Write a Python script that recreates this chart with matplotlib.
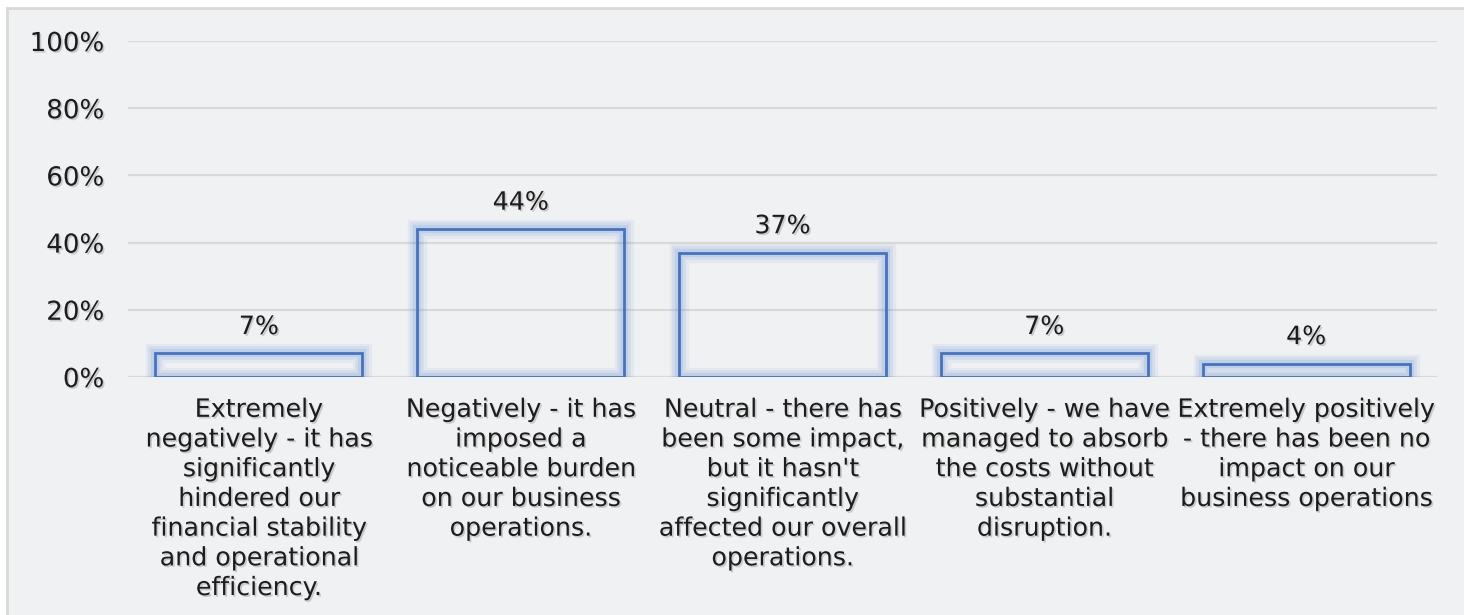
import matplotlib.pyplot as plt
import matplotlib.patheffects as pe
from matplotlib.patches import Rectangle

# survey answers and share of respondents (%)
categories = [
    "Extremely\nnegatively - it has\nsignificantly\nhindered our\nfinancial stability\nand operational\nefficiency.",
    "Negatively - it has\nimposed a\nnoticeable burden\non our business\noperations.",
    "Neutral - there has\nbeen some impact,\nbut it hasn't\nsignificantly\naffected our overall\noperations.",
    "Positively - we have\nmanaged to absorb\nthe costs without\nsubstantial\ndisruption.",
    "Extremely positively\n- there has been no\nimpact on our\nbusiness operations",
]
shares = [7, 44, 37, 7, 4]
yticks = [0, 20, 40, 60, 80, 100]

plt.rcParams['font.family'] = ['DejaVu Sans']
txt_color = '#1c1c1c'
fsize = 18.2
shadow = [pe.withSimplePatchShadow(offset=(1.2, -1.2), shadow_rgbFace='#9a9a9a', alpha=0.45)]

fig = plt.figure(figsize=(14.64, 6.15), dpi=100)
fig.patch.set_facecolor('white')
# panel background with light frame
fig.patches.append(Rectangle((7 / 1464, -0.01), 1.01, 1 - 8 / 615 + 0.01,
                             transform=fig.transFigure, facecolor='#f0f1f3',
                             edgecolor='#d9d9d9', linewidth=2, zorder=-5))

ax = fig.add_axes([128 / 1464, 1 - 377 / 615, (1437 - 128) / 1464, (377 - 41) / 615])
ax.set_facecolor('none')

x = list(range(len(categories)))
width = 0.79

# soft glow around the bars
for lw, a in [(14, 0.07), (10, 0.09), (6, 0.13)]:
    ax.bar(x, shares, width=width, facecolor='none', edgecolor='#4472c4',
           linewidth=lw, alpha=a, zorder=2)
ax.bar(x, shares, width=width, facecolor='none', edgecolor='#4472c4',
       linewidth=2.0, zorder=3)

for xi, v in zip(x, shares):
    ax.text(xi, v + 4.3, f"{v}%", ha='center', va='bottom', fontsize=fsize,
            color=txt_color, path_effects=shadow, zorder=4)

ax.set_ylim(0, 100)
ax.set_xlim(-0.5, len(categories) - 0.5)
ax.set_yticks(yticks)
ax.set_yticklabels([f"{t}%" for t in yticks])
ax.set_xticks(x)
ax.set_xticklabels(categories, fontsize=fsize, color=txt_color, linespacing=1.3)
ax.tick_params(axis='x', length=0, pad=15)
ax.tick_params(axis='y', length=0, pad=17, labelsize=fsize + 0.6, labelcolor=txt_color)
for lab in ax.get_xticklabels() + ax.get_yticklabels():
    lab.set_path_effects(shadow)

ax.grid(axis='y', color='#d9d9d9', linewidth=1.6, zorder=1)
ax.set_axisbelow(True)
for s in ax.spines.values():
    s.set_visible(False)

fig.savefig('out.png', dpi=100, facecolor=fig.get_facecolor())
